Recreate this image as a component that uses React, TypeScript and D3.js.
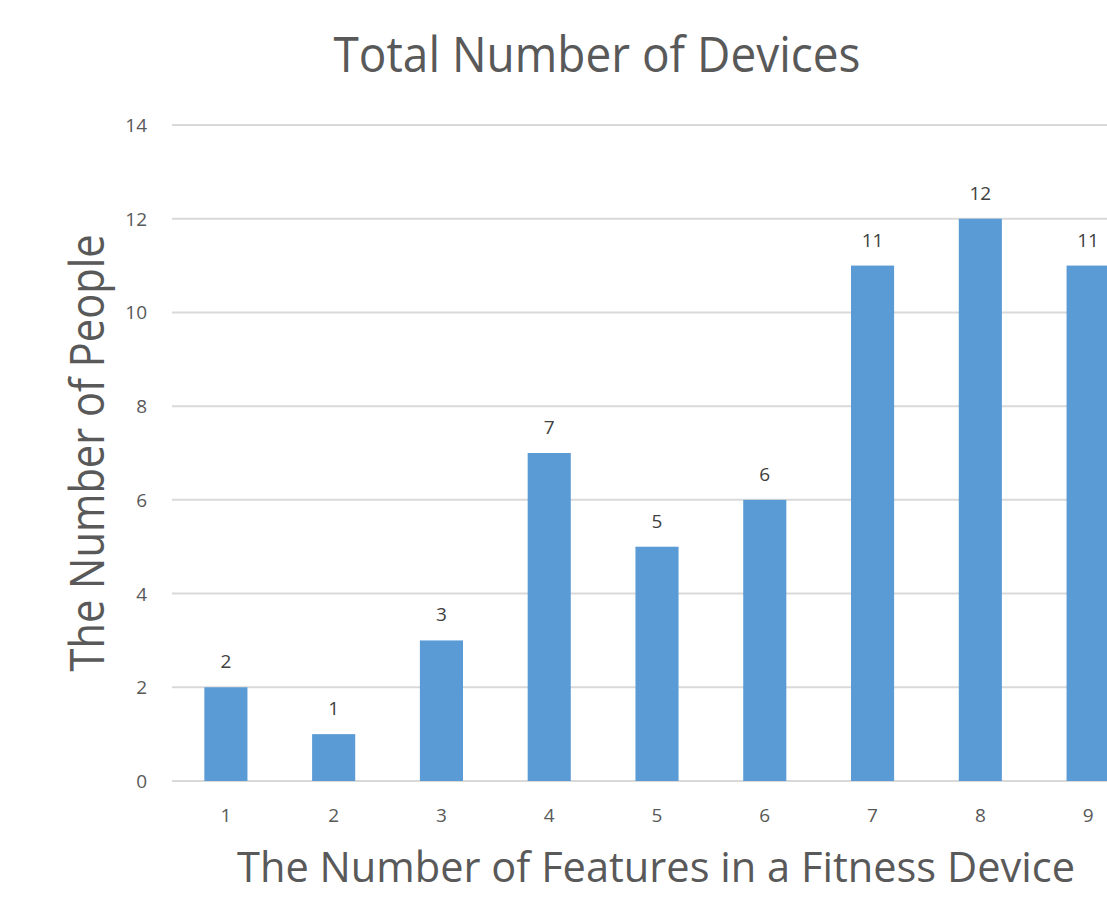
import React from "react";
import * as d3 from "d3";

const categories = ["1", "2", "3", "4", "5", "6", "7", "8", "9"];
const values = [2, 1, 3, 7, 5, 6, 11, 12, 11];
const yTicks = [0, 2, 4, 6, 8, 10, 12, 14];
const title = "Total Number of Devices";
const xTitle = "The Number of Features in a Fitness Device";
const yTitle = "The Number of People";

const W = 1107;
const H = 899;
const FONT = "'Open Sans', 'Noto Sans', sans-serif";
const TEXT = "#595959";

export default function App() {
  const x = d3
    .scaleBand<string>()
    .domain(categories)
    .range([172, 1142])
    .paddingInner(0.6)
    .paddingOuter(0.3);
  const y = d3.scaleLinear().domain([0, 14]).range([781, 125]);

  return (
    <svg
      width={W}
      height={H}
      style={{ position: "absolute", left: 0, top: 0, background: "#fff" }}
      fontFamily={FONT}
    >
      <text
        x={597}
        y={72}
        textAnchor="middle"
        fontSize={50}
        fill={TEXT}
        textLength={527}
        lengthAdjust="spacingAndGlyphs"
      >
        {title}
      </text>
      {yTicks.map((t) => (
        <g key={t}>
          <line x1={172} x2={W} y1={y(t)} y2={y(t)} stroke="#d9d9d9" strokeWidth={2} />
          <text x={147} y={y(t) + 7} textAnchor="end" fontSize={19} fill={TEXT}>
            {t}
          </text>
        </g>
      ))}
      {categories.map((c, i) => {
        const bx = x(c)!;
        const bw = x.bandwidth();
        return (
          <g key={c}>
            <rect x={bx} y={y(values[i])} width={bw} height={y(0) - y(values[i])} fill="#5B9BD5" />
            <text x={bx + bw / 2} y={y(values[i]) - 19} textAnchor="middle" fontSize={19} fill="#404040">
              {values[i]}
            </text>
            <text x={bx + bw / 2} y={822} textAnchor="middle" fontSize={19} fill={TEXT}>
              {c}
            </text>
          </g>
        );
      })}
      <text
        x={656}
        y={882}
        textAnchor="middle"
        fontSize={42}
        fill={TEXT}
        textLength={838}
        lengthAdjust="spacingAndGlyphs"
      >
        {xTitle}
      </text>
      <text
        transform={`translate(104,453) rotate(-90)`}
        textAnchor="middle"
        fontSize={48}
        fill={TEXT}
        textLength={437}
        lengthAdjust="spacingAndGlyphs"
      >
        {yTitle}
      </text>
    </svg>
  );
}
